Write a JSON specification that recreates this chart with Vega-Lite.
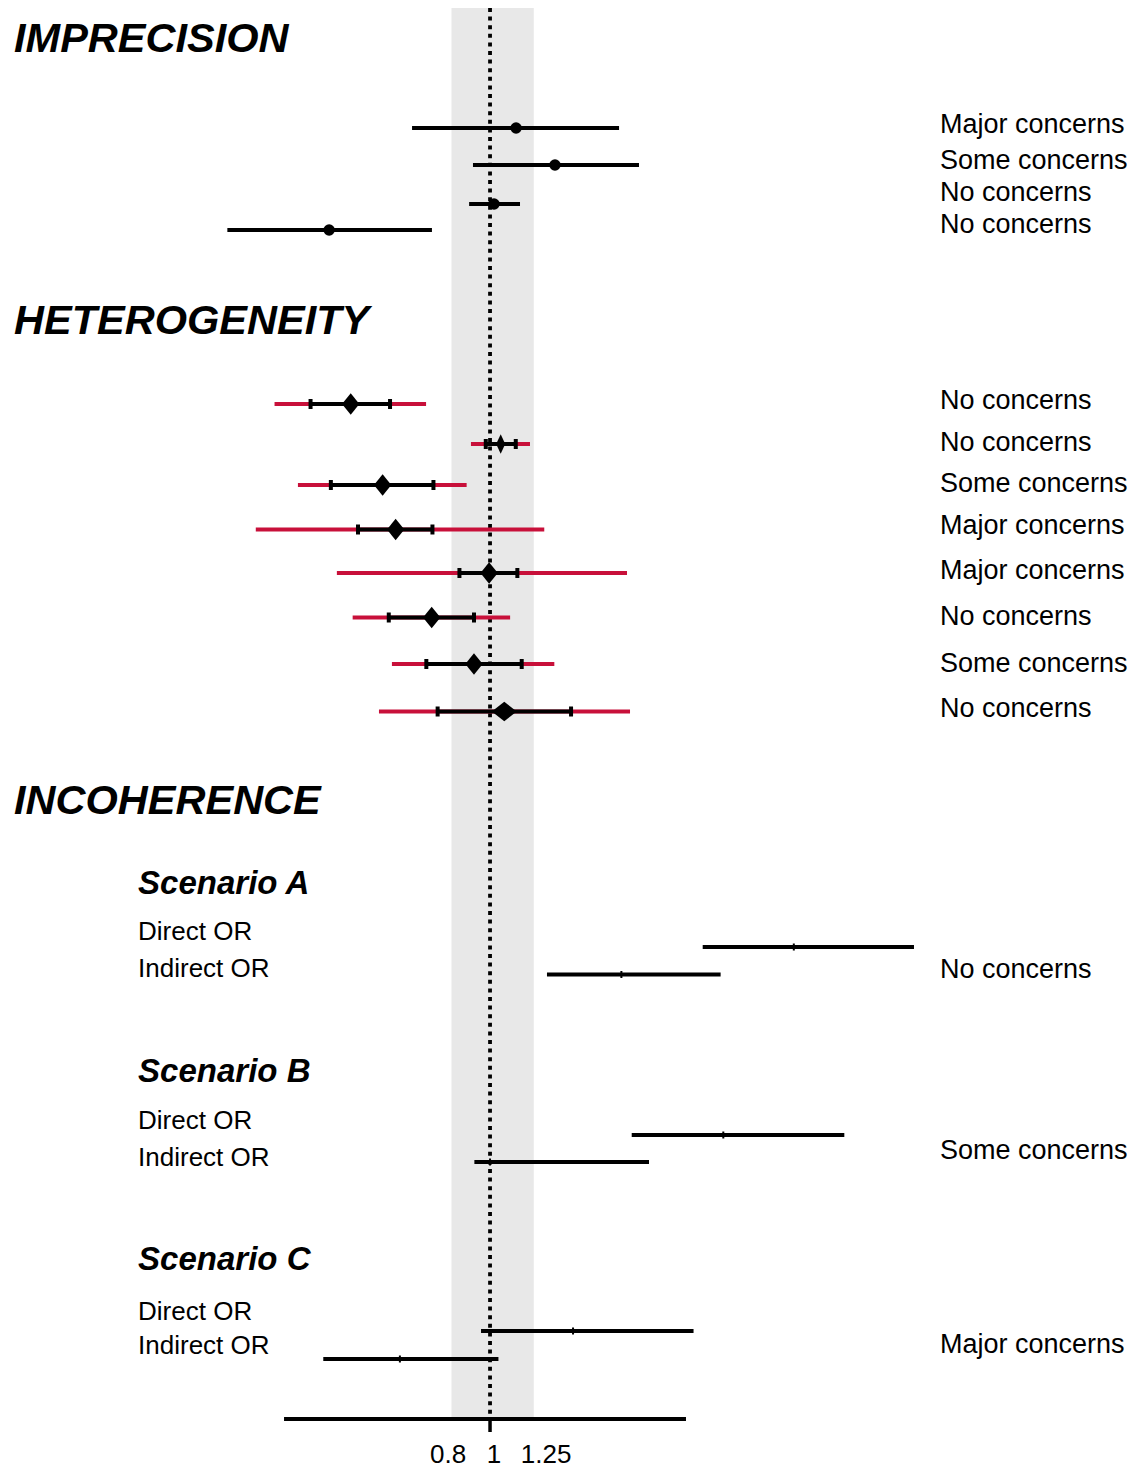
{
  "$schema": "https://vega.github.io/schema/vega-lite/v6.json",
  "width": 1136,
  "height": 1470,
  "autosize": {"type": "fit", "contains": "padding"},
  "padding": 0,
  "background": "white",
  "config": {"view": {"stroke": null}, "font": "Liberation Sans"},
  "datasets": {
    "band": [{"lo": 0.81, "hi": 1.27, "top": 0.8, "bottom": 141.9}],
    "nullLine": [{"x": 1, "top": 0.8, "bottom": 142.0}],
    "axisLine": [{"lo": 0.3244, "hi": 2.918, "row": 141.9, "tick": 1, "tickRow": 142.55}],
    "imprecision": [
      {"row": 12.8, "lo": 0.653, "hi": 2.024, "est": 1.153},
      {"row": 16.5, "lo": 0.911, "hi": 2.257, "est": 1.426},
      {"row": 20.4, "lo": 0.892, "hi": 1.178, "est": 1.022},
      {"row": 23.0, "lo": 0.238, "hi": 0.728, "est": 0.415}
    ],
    "heterogeneity": [
      {"row": 40.4, "piLo": 0.308, "piHi": 0.705, "ciLo": 0.375, "ciHi": 0.579, "est": 0.467, "diamond": "regular"},
      {"row": 44.4, "piLo": 0.901, "piHi": 1.244, "ciLo": 0.977, "ciHi": 1.151, "est": 1.06, "diamond": "narrow"},
      {"row": 48.5, "piLo": 0.35, "piHi": 0.88, "ciLo": 0.419, "ciHi": 0.734, "est": 0.556, "diamond": "regular"},
      {"row": 52.95, "piLo": 0.278, "piHi": 1.345, "ciLo": 0.486, "ciHi": 0.73, "est": 0.597, "diamond": "regular"},
      {"row": 57.3, "piLo": 0.433, "piHi": 2.114, "ciLo": 0.846, "ciHi": 1.161, "est": 0.995, "diamond": "regular"},
      {"row": 61.75, "piLo": 0.472, "piHi": 1.116, "ciLo": 0.575, "ciHi": 0.916, "est": 0.727, "diamond": "regular"},
      {"row": 66.4, "piLo": 0.585, "piHi": 1.421, "ciLo": 0.706, "ciHi": 1.189, "est": 0.916, "diamond": "regular"},
      {"row": 71.15, "piLo": 0.545, "piHi": 2.149, "ciLo": 0.751, "ciHi": 1.557, "est": 1.081, "diamond": "wide"}
    ],
    "incoherence": [
      {"row": 94.7, "scenario": "A", "type": "Direct", "lo": 3.197, "hi": 10.144, "est": 5.26},
      {"row": 97.45, "scenario": "A", "type": "Indirect", "lo": 1.365, "hi": 3.526, "est": 2.05},
      {"row": 113.5, "scenario": "B", "type": "Direct", "lo": 2.169, "hi": 6.932, "est": 3.578},
      {"row": 116.2, "scenario": "B", "type": "Indirect", "lo": 0.918, "hi": 2.384, "est": 1.0},
      {"row": 133.1, "scenario": "C", "type": "Direct", "lo": 0.952, "hi": 3.041, "est": 1.574},
      {"row": 135.9, "scenario": "C", "type": "Indirect", "lo": 0.402, "hi": 1.047, "est": 0.611}
    ],
    "labels": [
      {"text": "IMPRECISION", "x": 0.0742, "row": 4.0, "kind": "header"},
      {"text": "HETEROGENEITY", "x": 0.0742, "row": 32.2, "kind": "header"},
      {"text": "INCOHERENCE", "x": 0.0742, "row": 80.2, "kind": "header"},
      {"text": "Scenario A", "x": 0.1461, "row": 88.4, "kind": "scenario"},
      {"text": "Scenario B", "x": 0.1461, "row": 107.2, "kind": "scenario"},
      {"text": "Scenario C", "x": 0.1461, "row": 126.0, "kind": "scenario"},
      {"text": "Direct OR", "x": 0.1461, "row": 93.2, "kind": "sub"},
      {"text": "Indirect OR", "x": 0.1461, "row": 96.9, "kind": "sub"},
      {"text": "Direct OR", "x": 0.1461, "row": 112.1, "kind": "sub"},
      {"text": "Indirect OR", "x": 0.1461, "row": 115.8, "kind": "sub"},
      {"text": "Direct OR", "x": 0.1461, "row": 131.2, "kind": "sub"},
      {"text": "Indirect OR", "x": 0.1461, "row": 134.6, "kind": "sub"},
      {"text": "Major concerns", "x": 11.69, "row": 12.5, "kind": "judgement"},
      {"text": "Some concerns", "x": 11.69, "row": 16.1, "kind": "judgement"},
      {"text": "No concerns", "x": 11.69, "row": 19.3, "kind": "judgement"},
      {"text": "No concerns", "x": 11.69, "row": 22.5, "kind": "judgement"},
      {"text": "No concerns", "x": 11.69, "row": 40.1, "kind": "judgement"},
      {"text": "No concerns", "x": 11.69, "row": 44.3, "kind": "judgement"},
      {"text": "Some concerns", "x": 11.69, "row": 48.4, "kind": "judgement"},
      {"text": "Major concerns", "x": 11.69, "row": 52.6, "kind": "judgement"},
      {"text": "Major concerns", "x": 11.69, "row": 57.1, "kind": "judgement"},
      {"text": "No concerns", "x": 11.69, "row": 61.7, "kind": "judgement"},
      {"text": "Some concerns", "x": 11.69, "row": 66.4, "kind": "judgement"},
      {"text": "No concerns", "x": 11.69, "row": 70.9, "kind": "judgement"},
      {"text": "No concerns", "x": 11.69, "row": 97.0, "kind": "judgement"},
      {"text": "Some concerns", "x": 11.69, "row": 115.1, "kind": "judgement"},
      {"text": "Major concerns", "x": 11.69, "row": 134.5, "kind": "judgement"},
      {"text": "0.8", "x": 0.795, "row": 145.5, "kind": "tick"},
      {"text": "1", "x": 1.022, "row": 145.5, "kind": "tick"},
      {"text": "1.25", "x": 1.358, "row": 145.5, "kind": "tick"}
    ]
  },
  "layer": [
    {
      "data": {"name": "band"},
      "mark": {"type": "rect", "color": "#E8E8E8"},
      "encoding": {
        "x": {"field": "lo", "type": "quantitative", "scale": {"type": "log", "domain": [0.0687, 34.13], "nice": false}, "axis": null},
        "x2": {"field": "hi"},
        "y": {"field": "top", "type": "quantitative", "scale": {"domain": [0, 147], "reverse": true, "nice": false, "zero": false}, "axis": null},
        "y2": {"field": "bottom"}
      }
    },
    {
      "data": {"name": "nullLine"},
      "mark": {"type": "rule", "color": "black", "strokeWidth": 3.8, "strokeDash": [4, 4.6]},
      "encoding": {
        "x": {"field": "x", "type": "quantitative"},
        "y": {"field": "top", "type": "quantitative"},
        "y2": {"field": "bottom"}
      }
    },
    {
      "data": {"name": "axisLine"},
      "mark": {"type": "rule", "color": "black", "strokeWidth": 4},
      "encoding": {
        "x": {"field": "lo", "type": "quantitative"},
        "x2": {"field": "hi"},
        "y": {"field": "row", "type": "quantitative"}
      }
    },
    {
      "data": {"name": "axisLine"},
      "mark": {"type": "tick", "orient": "vertical", "color": "black", "size": 13, "thickness": 3.5, "opacity": 1},
      "encoding": {
        "x": {"field": "tick", "type": "quantitative"},
        "y": {"field": "tickRow", "type": "quantitative"}
      }
    },
    {
      "data": {"name": "imprecision"},
      "mark": {"type": "rule", "color": "black", "strokeWidth": 4},
      "encoding": {
        "x": {"field": "lo", "type": "quantitative"},
        "x2": {"field": "hi"},
        "y": {"field": "row", "type": "quantitative"}
      }
    },
    {
      "data": {"name": "imprecision"},
      "mark": {"type": "point", "filled": true, "shape": "circle", "color": "black", "size": 130, "opacity": 1},
      "encoding": {
        "x": {"field": "est", "type": "quantitative"},
        "y": {"field": "row", "type": "quantitative"}
      }
    },
    {
      "data": {"name": "heterogeneity"},
      "mark": {"type": "rule", "color": "#C8103A", "strokeWidth": 4},
      "encoding": {
        "x": {"field": "piLo", "type": "quantitative"},
        "x2": {"field": "piHi"},
        "y": {"field": "row", "type": "quantitative"}
      }
    },
    {
      "data": {"name": "heterogeneity"},
      "mark": {"type": "rule", "color": "black", "strokeWidth": 4},
      "encoding": {
        "x": {"field": "ciLo", "type": "quantitative"},
        "x2": {"field": "ciHi"},
        "y": {"field": "row", "type": "quantitative"}
      }
    },
    {
      "data": {"name": "heterogeneity"},
      "mark": {"type": "tick", "orient": "vertical", "color": "black", "size": 10, "thickness": 4, "opacity": 1},
      "encoding": {
        "x": {"field": "ciLo", "type": "quantitative"},
        "y": {"field": "row", "type": "quantitative"}
      }
    },
    {
      "data": {"name": "heterogeneity"},
      "mark": {"type": "tick", "orient": "vertical", "color": "black", "size": 10, "thickness": 4, "opacity": 1},
      "encoding": {
        "x": {"field": "ciHi", "type": "quantitative"},
        "y": {"field": "row", "type": "quantitative"}
      }
    },
    {
      "data": {"name": "heterogeneity"},
      "mark": {"type": "point", "filled": true, "color": "black", "size": 470, "opacity": 1},
      "encoding": {
        "x": {"field": "est", "type": "quantitative"},
        "y": {"field": "row", "type": "quantitative"},
        "shape": {
          "field": "diamond",
          "type": "nominal",
          "legend": null,
          "scale": {
            "domain": ["regular", "narrow", "wide"],
            "range": ["M0,-1L0.8,0L0,1L-0.8,0Z", "M0,-0.9L0.42,0L0,0.9L-0.42,0Z", "M0,-0.9L1.15,0L0,0.9L-1.15,0Z"]
          }
        }
      }
    },
    {
      "data": {"name": "incoherence"},
      "mark": {"type": "rule", "color": "black", "strokeWidth": 4},
      "encoding": {
        "x": {"field": "lo", "type": "quantitative"},
        "x2": {"field": "hi"},
        "y": {"field": "row", "type": "quantitative"}
      }
    },
    {
      "data": {"name": "incoherence"},
      "mark": {"type": "tick", "orient": "vertical", "color": "black", "size": 7, "thickness": 2, "opacity": 1},
      "encoding": {
        "x": {"field": "est", "type": "quantitative"},
        "y": {"field": "row", "type": "quantitative"}
      }
    },
    {
      "data": {"name": "labels"},
      "transform": [{"filter": "datum.kind === 'header'"}],
      "mark": {"type": "text", "align": "left", "baseline": "middle", "fontSize": 41.5, "fontWeight": "bold", "fontStyle": "italic", "color": "black"},
      "encoding": {
        "x": {"field": "x", "type": "quantitative"},
        "y": {"field": "row", "type": "quantitative"},
        "text": {"field": "text"}
      }
    },
    {
      "data": {"name": "labels"},
      "transform": [{"filter": "datum.kind === 'scenario'"}],
      "mark": {"type": "text", "align": "left", "baseline": "middle", "fontSize": 33, "fontWeight": "bold", "fontStyle": "italic", "color": "black"},
      "encoding": {
        "x": {"field": "x", "type": "quantitative"},
        "y": {"field": "row", "type": "quantitative"},
        "text": {"field": "text"}
      }
    },
    {
      "data": {"name": "labels"},
      "transform": [{"filter": "datum.kind === 'sub'"}],
      "mark": {"type": "text", "align": "left", "baseline": "middle", "fontSize": 26, "color": "black"},
      "encoding": {
        "x": {"field": "x", "type": "quantitative"},
        "y": {"field": "row", "type": "quantitative"},
        "text": {"field": "text"}
      }
    },
    {
      "data": {"name": "labels"},
      "transform": [{"filter": "datum.kind === 'judgement'"}],
      "mark": {"type": "text", "align": "left", "baseline": "middle", "fontSize": 27, "color": "black"},
      "encoding": {
        "x": {"field": "x", "type": "quantitative"},
        "y": {"field": "row", "type": "quantitative"},
        "text": {"field": "text"}
      }
    },
    {
      "data": {"name": "labels"},
      "transform": [{"filter": "datum.kind === 'tick'"}],
      "mark": {"type": "text", "align": "center", "baseline": "middle", "fontSize": 26, "color": "black"},
      "encoding": {
        "x": {"field": "x", "type": "quantitative"},
        "y": {"field": "row", "type": "quantitative"},
        "text": {"field": "text"}
      }
    }
  ]
}
